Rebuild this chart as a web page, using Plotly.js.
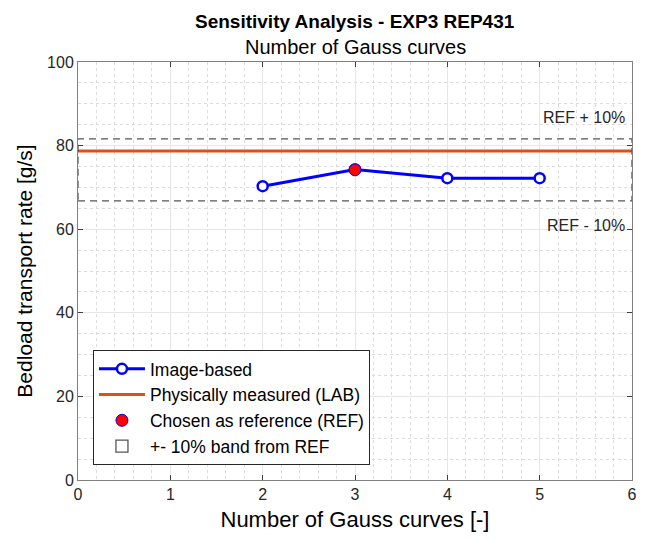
<!DOCTYPE html>
<html>
<head>
<meta charset="utf-8">
<script src="https://cdn.plot.ly/plotly-3.0.1.min.js"></script>
<style>html,body{margin:0;padding:0;background:#fff;}#chart{width:646px;height:539px;}</style>
</head>
<body>
<div id="chart"></div>
<script>
const gaussCurves = [2, 3, 4, 5];
const imageBased = [70.3, 74.3, 72.2, 72.2];
const labValue = 78.7;
const labX = [0, 6];
const refX = 3;
const refValue = 74.2;
const bandFraction = 0.10;
const bandXRange = [0, 6];
const annUpper = "REF + 10%";
const annLower = "REF - 10%";

const bandLo = refValue * (1 - bandFraction);
const bandHi = refValue * (1 + bandFraction);

const font = "Liberation Sans, Arial, Helvetica, sans-serif";

const traces = [
  {
    x: gaussCurves, y: imageBased,
    mode: 'lines+markers',
    line: {color: '#0000FF', width: 3},
    marker: {symbol: 'circle', size: 10, color: '#ffffff', line: {color: '#0000FF', width: 2.5}},
    name: 'Image-based', legendrank: 1
  },
  {
    x: labX, y: [labValue, labValue],
    mode: 'lines', line: {color: '#D95319', width: 3},
    name: 'Physically measured (LAB)', legendrank: 2
  },
  {
    x: [refX], y: [refValue],
    mode: 'markers',
    marker: {symbol: 'circle', size: 12, color: '#FF0000', line: {color: '#0000FF', width: 1}},
    name: 'Chosen as reference (REF)', legendrank: 3
  }
];

const layout = {
  width: 646, height: 539,
  margin: {l: 78, r: 14, t: 62, b: 59},
  paper_bgcolor: '#ffffff', plot_bgcolor: '#ffffff',
  font: {family: font, color: '#262626', size: 16},
  showlegend: true,
  legend: {
    x: 0.027, y: 0.036, xanchor: 'left', yanchor: 'bottom',
    bgcolor: '#ffffff', bordercolor: '#262626', borderwidth: 1,
    font: {family: font, size: 17.5, color: '#000000'},
    tracegroupgap: 0, itemwidth: 46, traceorder: 'normal'
  },
  shapes: [
    {type: 'rect', xref: 'x', yref: 'y', x0: bandXRange[0], x1: bandXRange[1], y0: bandLo, y1: bandHi,
     line: {color: '#555555', width: 1.3, dash: '7px,5px'}, fillcolor: 'rgba(0,0,0,0)',
     showlegend: true, name: '+- 10% band from REF', legendrank: 4, layer: 'above'}
  ],
  xaxis: {
    range: [0, 6], dtick: 1, tick0: 0,
    showline: true, linecolor: '#808080', linewidth: 1, mirror: 'ticks',
    ticks: 'inside', ticklen: 5, tickcolor: '#404040',
    showgrid: true, gridcolor: '#e6e6e6', gridwidth: 1,
    minor: {dtick: 0.2, showgrid: true, gridcolor: '#dcdcdc', griddash: 'dot', gridwidth: 1},
    zeroline: false,
    tickfont: {size: 16, color: '#262626'},
    title: {text: 'Number of Gauss curves [-]', font: {size: 22, color: '#000000'}, standoff: 9}
  },
  yaxis: {
    range: [0, 100], dtick: 20, tick0: 0,
    showline: true, linecolor: '#808080', linewidth: 1, mirror: 'ticks',
    ticks: 'inside', ticklen: 5, tickcolor: '#404040',
    showgrid: true, gridcolor: '#e6e6e6', gridwidth: 1,
    minor: {dtick: 5, showgrid: true, gridcolor: '#dcdcdc', griddash: 'dot', gridwidth: 1},
    zeroline: false,
    tickfont: {size: 16, color: '#262626'},
    title: {text: 'Bedload transport rate [g/s]', font: {size: 21, color: '#000000'}, standoff: 8}
  },
  annotations: [
    {xref: 'paper', yref: 'paper', x: 0.5, y: 1, yanchor: 'bottom', xanchor: 'center',
     text: '<b>Sensitivity Analysis - EXP3 REP431</b>', showarrow: false,
     font: {size: 19, color: '#000000', family: font}, yshift: 28},
    {xref: 'paper', yref: 'paper', x: 0.5, y: 1, yanchor: 'bottom', xanchor: 'center',
     text: 'Number of Gauss curves', showarrow: false,
     font: {size: 20, color: '#000000', family: font}, yshift: 2},
    {xref: 'paper', yref: 'y', x: 0.991, y: bandHi + 5, xanchor: 'right', yanchor: 'middle',
     text: annUpper, showarrow: false, font: {size: 16, color: '#262626'}},
    {xref: 'paper', yref: 'y', x: 0.991, y: bandLo - 6, xanchor: 'right', yanchor: 'middle',
     text: annLower, showarrow: false, font: {size: 16, color: '#262626'}}
  ]
};

Plotly.newPlot('chart', traces, layout, {displayModeBar: false, staticPlot: true});
</script>
</body>
</html>
